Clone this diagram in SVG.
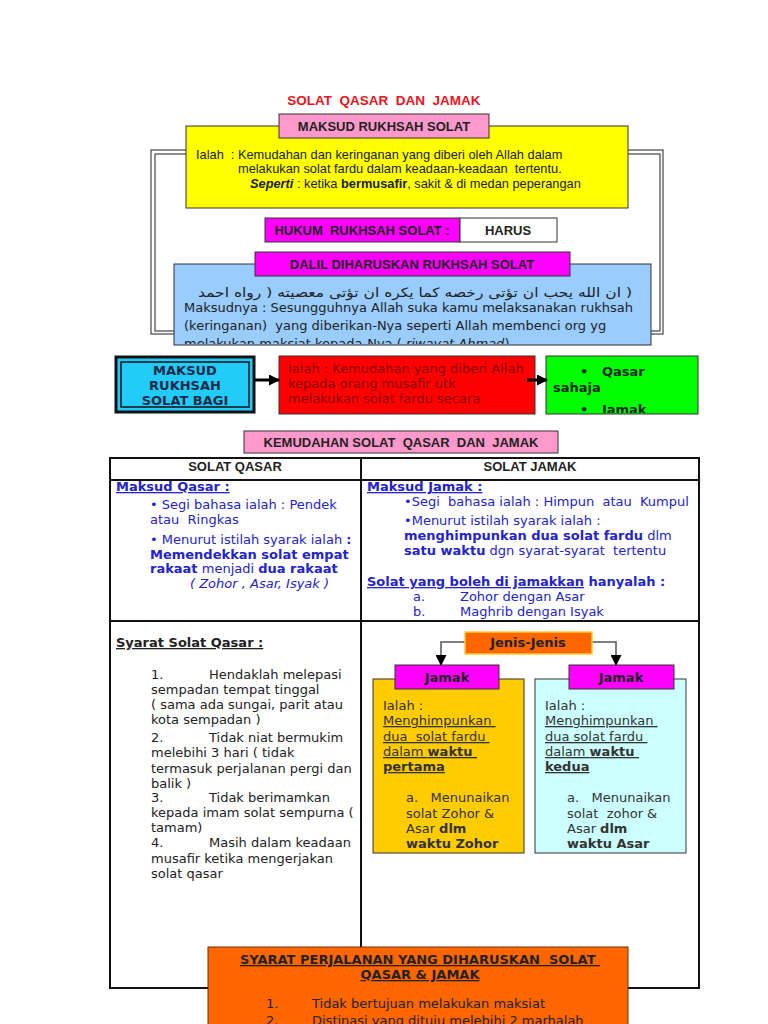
<svg xmlns="http://www.w3.org/2000/svg" width="768" height="1024" viewBox="0 0 768 1024" xml:space="preserve">
<style>
text{white-space:pre;}
.a{font-family:"Liberation Sans",Arial,sans-serif;}
.d{font-family:"DejaVu Sans",Verdana,sans-serif;font-size:13px;}
.hb{font-family:"Liberation Sans",Arial,sans-serif;font-weight:bold;font-size:13px;fill:#222;text-anchor:middle;}
.b{font-weight:bold;}
.u{text-decoration:underline;}
.i{font-style:italic;}
.box{stroke:#333;stroke-width:1;}
.blue{fill:#2424C8;}
.dk{fill:#222;}
.conn{fill:none;stroke:#555;stroke-width:1.5;}
</style>
<defs>
<marker id="ah" markerWidth="11" markerHeight="11" refX="10" refY="5.5" orient="auto" markerUnits="userSpaceOnUse"><path d="M0,0 L11,5.5 L0,11 Z" fill="#000"/></marker>
<clipPath id="cBlue"><rect x="174" y="264" width="477" height="80"/></clipPath>
<clipPath id="cRed"><rect x="279" y="356" width="256" height="57"/></clipPath>
<clipPath id="cGreen"><rect x="546" y="356" width="152" height="57"/></clipPath>
<clipPath id="cGold"><rect x="373" y="679" width="151" height="173"/></clipPath>
<clipPath id="cCyan"><rect x="535" y="679" width="151" height="173"/></clipPath>
</defs>
<rect width="768" height="1024" fill="#fff"/>

<text id="title" class="a" x="384" y="105" font-size="13.5" font-weight="bold" fill="#E8141E" text-anchor="middle">SOLAT  QASAR  DAN  JAMAK</text>

<g id="frame" fill="none" stroke="#444" stroke-width="1.2">
<rect x="151" y="150" width="512" height="184"/>
<rect x="155" y="154" width="505" height="177"/>
</g>

<g id="maksud-rukhsah">
<rect class="box" x="186" y="126" width="442" height="82" fill="#FFFF00"/>
<rect class="box" x="279" y="114" width="210" height="24" fill="#FF99CC"/>
<text class="hb" x="384" y="131">MAKSUD RUKHSAH SOLAT</text>
<text class="a" font-size="12.8" fill="#222" x="196" y="159">Ialah  : Kemudahan dan keringanan yang diberi oleh Allah dalam</text>
<text class="a" font-size="12.8" fill="#222" x="238" y="173">melakukan solat fardu dalam keadaan-keadaan  tertentu.</text>
<text class="a" font-size="12.8" fill="#222" x="250" y="188"><tspan class="b i">Seperti</tspan> : ketika <tspan class="b">bermusafir</tspan>, sakit &amp; di medan peperangan</text>
</g>

<g id="hukum">
<rect class="box" x="265" y="218" width="195" height="24" fill="#FF00FF"/>
<text class="hb" x="362" y="235">HUKUM  RUKHSAH SOLAT :</text>
<rect class="box" x="460" y="218" width="97" height="24" fill="#fff"/>
<text class="hb" x="508" y="235">HARUS</text>
</g>

<g id="dalil">
<rect class="box" x="174" y="264" width="477" height="81" fill="#99CCFF"/>
<rect class="box" x="255" y="252" width="315" height="24" fill="#FF00FF"/>
<text class="hb" x="412" y="269">DALIL DIHARUSKAN RUKHSAH SOLAT</text>
<g clip-path="url(#cBlue)">
<text class="d" font-size="18" fill="#222" x="632" y="297" direction="rtl" text-anchor="start" textLength="434" lengthAdjust="spacingAndGlyphs">( ان الله يحب ان تؤتى رخصه كما يكره ان تؤتى معصيته ( رواه احمد</text>
<text class="d" font-size="13.4" fill="#222" x="184" y="312">Maksudnya : Sesungguhnya Allah suka kamu melaksanakan rukhsah</text>
<text class="d" font-size="13.4" fill="#222" x="184" y="330">(keringanan)  yang diberikan-Nya seperti Allah membenci org yg</text>
<text class="d" font-size="13.4" fill="#222" x="184" y="348">melakukan maksiat kepada-Nya ( <tspan class="i">riwayat Ahmad</tspan>)</text>
</g>
</g>

<g id="maksud-bagi">
<rect x="116" y="357" width="138" height="55" fill="#22CCF8" stroke="#111" stroke-width="3"/>
<rect x="121" y="362" width="128" height="45" fill="none" stroke="#111" stroke-width="1.5"/>
<text class="d b" font-size="12.5" fill="#1A2A48" text-anchor="middle" x="185" y="375">MAKSUD</text>
<text class="d b" font-size="12.5" fill="#1A2A48" text-anchor="middle" x="185" y="390">RUKHSAH</text>
<text class="d b" font-size="12.5" fill="#1A2A48" text-anchor="middle" x="185" y="405">SOLAT BAGI</text>
</g>

<g id="ialah-musafir">
<rect class="box" x="279" y="356" width="256" height="58" fill="#FF0000"/>
<g clip-path="url(#cRed)">
<text class="d" fill="#8A0000" x="288" y="373">Ialah : Kemudahan yang diberi Allah</text>
<text class="d" fill="#8A0000" x="288" y="388">kepada orang musafir utk</text>
<text class="d" fill="#8A0000" x="288" y="403">melakukan solat fardu secara</text>
</g>
</g>

<g id="qasar-jamak">
<rect class="box" x="546" y="356" width="152" height="58" fill="#00FF00"/>
<g clip-path="url(#cGreen)">
<text class="d b" font-size="12.5" fill="#0A2A0A" x="580" y="376">•   Qasar</text>
<text class="d b" font-size="12.5" fill="#0A2A0A" x="553" y="392">sahaja</text>
<text class="d b" font-size="12.5" fill="#0A2A0A" x="580" y="413.5">•   Jamak</text>
</g>
</g>

<g id="kemudahan">
<rect class="box" x="244" y="431" width="314" height="22" fill="#FF99CC"/>
<text class="hb" x="401" y="447">KEMUDAHAN SOLAT  QASAR  DAN  JAMAK</text>
</g>

<g id="table">
<rect x="110" y="458" width="589" height="530" fill="#fff" stroke="#111" stroke-width="2"/>
<line x1="110" y1="480" x2="699" y2="480" stroke="#111" stroke-width="2"/>
<line x1="110" y1="621" x2="699" y2="621" stroke="#111" stroke-width="2"/>
<line x1="361" y1="458" x2="361" y2="988" stroke="#111" stroke-width="2"/>
<text class="hb" x="235" y="471">SOLAT QASAR</text>
<text class="hb" x="530" y="471">SOLAT JAMAK</text>
</g>

<g id="qasar-cell" class="blue">
<text class="d b u" x="116" y="491">Maksud Qasar :</text>
<text class="d" x="150" y="509">• Segi bahasa ialah : Pendek</text>
<text class="d" x="150" y="524">atau  Ringkas</text>
<text class="d" x="150" y="544">• Menurut istilah syarak ialah <tspan class="b">:</tspan></text>
<text class="d b" x="150" y="559">Memendekkan solat empat</text>
<text class="d" x="150" y="573"><tspan class="b">rakaat</tspan> menjadi <tspan class="b">dua rakaat</tspan></text>
<text class="d i" x="190" y="588">( Zohor , Asar, Isyak )</text>
</g>

<g id="jamak-cell" class="blue">
<text class="d b u" x="367" y="491">Maksud Jamak :</text>
<text class="d" x="404" y="506">•Segi  bahasa ialah : Himpun  atau  Kumpul</text>
<text class="d" x="404" y="525">•Menurut istilah syarak ialah :</text>
<text class="d" x="404" y="540"><tspan class="b">menghimpunkan dua solat fardu</tspan> dlm</text>
<text class="d" x="404" y="555"><tspan class="b">satu waktu</tspan> dgn syarat-syarat  tertentu</text>
<text class="d b" x="367" y="586"><tspan class="u">Solat yang boleh di jamakkan</tspan> hanyalah :</text>
<text class="d" x="413" y="601">a.</text><text class="d" x="460" y="601">Zohor dengan Asar</text>
<text class="d" x="413" y="616">b.</text><text class="d" x="460" y="616">Maghrib dengan Isyak</text>
</g>

<g id="syarat-qasar" class="dk">
<text class="d b u" x="116" y="647">Syarat Solat Qasar :</text>
<text class="d" x="151" y="679">1.</text><text class="d" x="209" y="679">Hendaklah melepasi</text>
<text class="d" x="151" y="694">sempadan tempat tinggal</text>
<text class="d" x="151" y="709">( sama ada sungai, parit atau</text>
<text class="d" x="151" y="724">kota sempadan )</text>
<text class="d" x="151" y="742">2.</text><text class="d" x="209" y="742">Tidak niat bermukim</text>
<text class="d" x="151" y="757">melebihi 3 hari ( tidak</text>
<text class="d" x="151" y="773">termasuk perjalanan pergi dan</text>
<text class="d" x="151" y="788">balik )</text>
<text class="d" x="151" y="802">3.</text><text class="d" x="209" y="802">Tidak berimamkan</text>
<text class="d" x="151" y="817">kepada imam solat sempurna (</text>
<text class="d" x="151" y="832">tamam)</text>
<text class="d" x="151" y="847">4.</text><text class="d" x="209" y="847">Masih dalam keadaan</text>
<text class="d" x="151" y="863">musafir ketika mengerjakan</text>
<text class="d" x="151" y="878">solat qasar</text>
</g>

<g id="connectors">
<path class="conn" d="M465,642 H441 V665" marker-end="url(#ah)"/>
<path class="conn" d="M592,642 H616 V665" marker-end="url(#ah)"/>
<line x1="254" y1="380" x2="279" y2="380" stroke="#000" stroke-width="3" marker-end="url(#ah)"/>
<line x1="527" y1="380" x2="547" y2="380" stroke="#000" stroke-width="3" marker-end="url(#ah)"/>
</g>

<g id="jenis">
<rect x="465" y="632" width="127" height="22" fill="#FF6600" stroke="#FFCC33" stroke-width="1.5"/>
<text class="d b" fill="#222" x="528" y="647" text-anchor="middle">Jenis-Jenis</text>
</g>

<g id="jamak-pertama">
<rect class="box" x="373" y="679" width="151" height="174" fill="#FFCC00"/>
<rect class="box" x="395" y="665" width="104" height="24" fill="#FF00FF"/>
<text class="d b" fill="#222" x="447" y="682" text-anchor="middle">Jamak</text>
<g clip-path="url(#cGold)" fill="#333">
<text class="d" x="383" y="710">Ialah :</text>
<text class="d u" x="383" y="725">Menghimpunkan </text>
<text class="d u" x="383" y="741">dua  solat fardu </text>
<text class="d u" x="383" y="756">dalam <tspan class="b">waktu </tspan></text>
<text class="d b u" x="383" y="771">pertama</text>
<text class="d" x="406" y="802">a.   Menunaikan</text>
<text class="d" x="406" y="818">solat Zohor &amp;</text>
<text class="d" x="406" y="833">Asar <tspan class="b">dlm</tspan></text>
<text class="d b" x="406" y="848">waktu Zohor</text>
</g>
</g>

<g id="jamak-kedua">
<rect class="box" x="535" y="679" width="151" height="174" fill="#CCFFFF"/>
<rect class="box" x="569" y="665" width="105" height="24" fill="#FF00FF"/>
<text class="d b" fill="#222" x="621" y="682" text-anchor="middle">Jamak</text>
<g clip-path="url(#cCyan)" fill="#333">
<text class="d" x="545" y="710">Ialah :</text>
<text class="d u" x="545" y="725">Menghimpunkan </text>
<text class="d u" x="545" y="741">dua solat fardu </text>
<text class="d u" x="545" y="756">dalam <tspan class="b">waktu </tspan></text>
<text class="d b u" x="545" y="771">kedua</text>
<text class="d" x="567" y="802">a.   Menunaikan</text>
<text class="d" x="567" y="818">solat  zohor &amp;</text>
<text class="d" x="567" y="833">Asar <tspan class="b">dlm</tspan></text>
<text class="d b" x="567" y="848">waktu Asar</text>
</g>
</g>

<g id="syarat-perjalanan">
<rect x="208" y="947" width="420" height="90" fill="#FF6600" stroke="#663300" stroke-width="1"/>
<text class="d b u" fill="#222" x="420" y="964" text-anchor="middle">SYARAT PERJALANAN YANG DIHARUSKAN  SOLAT </text>
<text class="d b u" fill="#222" x="420" y="979" text-anchor="middle">QASAR &amp; JAMAK</text>
<text class="d" fill="#222" x="266" y="1008">1.</text><text class="d" fill="#222" x="312" y="1008">Tidak bertujuan melakukan maksiat</text>
<text class="d" fill="#222" x="266" y="1025">2.</text><text class="d" fill="#222" x="312" y="1025">Distinasi yang dituju melebihi 2 marhalah</text>
</g>
</svg>
